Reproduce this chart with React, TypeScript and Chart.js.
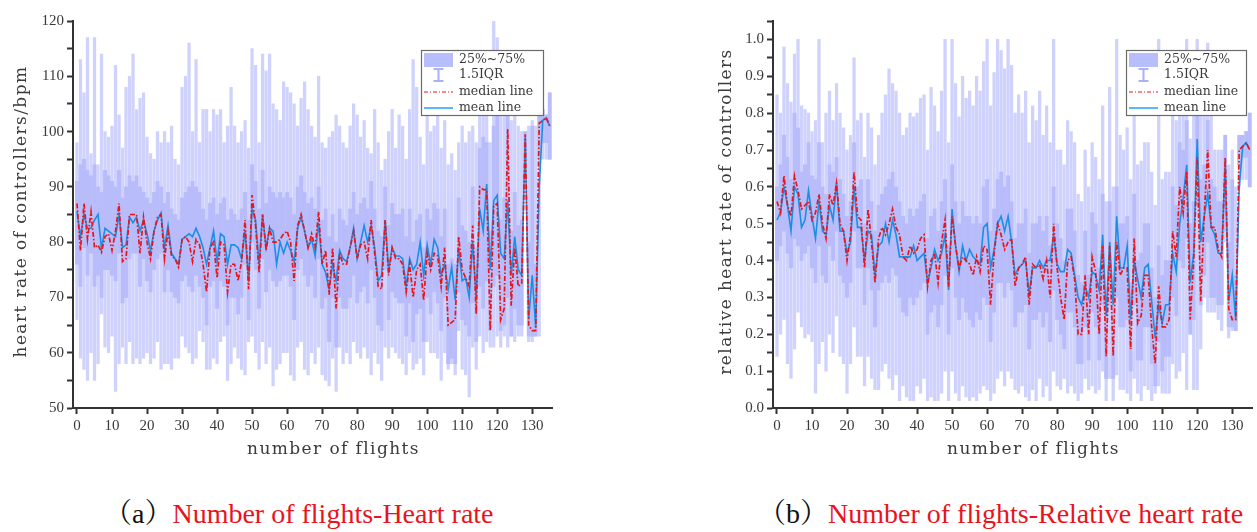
import React, { useEffect, useRef } from 'react';
import { Chart, registerables } from 'chart.js';
Chart.register(...registerables);

// ---------------- DATA ----------------
const flightCount = 136;
const flights = Array.from({ length: flightCount }, (_, i) => i);

const xTickValues = [0, 10, 20, 30, 40, 50, 60, 70, 80, 90, 100, 110, 120, 130];

// Panel (a): heart rate (bpm)
const hrMedian = [
  87, 78.5, 87, 80.5, 85.5, 79, 79.5, 78.2, 81, 81.5,
  78.5, 82, 87, 76.5, 77, 85, 85, 85, 78, 84.5,
  80, 77, 82, 84.5, 85, 77, 82, 77.5, 77, 75.5,
  80.5, 81, 80, 76.5, 80.5, 79.5, 76, 71, 79, 80,
  73.5, 80, 79.5, 71, 76, 76, 73, 76.5, 84, 71.5,
  88.5, 83, 74.5, 85, 78.5, 82.5, 80, 80, 80.5, 81.5,
  82, 80, 73, 83, 85, 82, 79, 81.5, 79, 85.5,
  76, 78.5, 70.5, 79, 68, 78, 76, 76, 79, 82,
  77, 79.5, 80, 77, 84, 78, 72, 71.5, 84, 74,
  79, 77, 77, 76, 71, 76, 70, 75, 76, 69.5,
  78, 75, 78, 77.5, 72, 79, 65, 65.5, 66, 81,
  75, 73.5, 72, 83, 67, 90, 89.5, 89.5, 64, 86.5,
  87, 66, 68, 100.5, 68.5, 79, 72, 72.5, 99.5, 65,
  64, 64, 101.5, 102, 102.5, 101,
];
const hrMean = [
  85.5, 81, 85, 82.5, 82.5, 84, 85, 78.8, 82.5, 82,
  81.5, 81, 85, 79, 79.5, 84.5, 83.5, 84.5, 82, 84,
  81.5, 78.5, 82, 84, 85.3, 79, 83, 78, 77, 76,
  80.5, 81, 81.5, 81, 82.5, 81, 79, 76, 79, 82,
  76.5, 81.5, 81, 76, 79.5, 79.5, 79, 77, 82, 73,
  86, 84, 76, 85, 79, 82.5, 82, 76, 80, 78,
  80, 78.5, 76.5, 82.5, 84.5, 82, 79, 80.5, 77.5, 83.5,
  76, 74.5, 71.5, 76, 73, 78.5, 77, 76.5, 79, 82.5,
  77, 80, 83, 80, 83, 79, 73, 74, 84, 75,
  79, 77.5, 77.5, 77, 72, 77, 75, 76, 80, 74,
  79.5, 76, 80.5, 79, 74, 76, 71.5, 75.5, 69.5, 79,
  73, 73.5, 70, 80, 70, 86, 82, 90.5, 75, 87.5,
  88.5, 78, 77, 87.5, 74, 81, 75, 74, 99, 66,
  74, 64.5, 90, 102, 102.5, 101,
];
const hrQ3 = [
  91, 94, 95, 93, 92, 94, 90, 89, 93, 92,
  91, 90, 93, 88, 90, 92, 91, 92, 90, 89,
  88, 87, 89, 91, 90, 87, 89, 86, 85, 84,
  88, 89, 90, 91, 90, 89, 86, 84, 87, 88,
  85, 87, 88, 84, 86, 85, 84, 86, 89, 84,
  94, 91, 86, 93, 87, 90, 89, 88, 89, 88,
  89, 88, 85, 90, 92, 89, 87, 88, 86, 90,
  84, 86, 81, 85, 80, 86, 84, 83, 86, 89,
  85, 87, 88, 86, 91, 86, 82, 81, 90, 83,
  87, 85, 85, 86, 81, 86, 80, 84, 85, 79,
  86, 84, 87, 86, 81, 86, 76, 77, 76, 88,
  83, 82, 80, 90, 79, 97, 99, 98, 82, 101,
  103, 84, 88, 105, 82, 89, 83, 84, 100, 80,
  101, 76, 103, 104, 103, 107,
];
const hrQ1 = [
  76, 72, 79, 74, 78, 72, 74, 70, 75, 75,
  74, 73, 78, 69, 70, 77, 78, 78, 72, 77,
  73, 71, 75, 77, 78, 71, 75, 71, 70, 69,
  73, 74, 72, 71, 74, 72, 70, 65, 72, 73,
  68, 73, 72, 65, 70, 70, 67, 70, 76, 66,
  80, 75, 68, 77, 71, 75, 73, 72, 73, 74,
  74, 72, 66, 75, 77, 74, 72, 74, 70, 77,
  68, 70, 62, 70, 61, 70, 68, 68, 70, 74,
  69, 71, 72, 69, 75, 70, 65, 64, 75, 66,
  71, 70, 69, 69, 63, 69, 62, 67, 68, 62,
  70, 67, 71, 69, 64, 70, 58, 59, 58, 71,
  66, 65, 63, 69, 62, 72, 68, 73, 64, 72,
  74, 64, 65, 70, 63, 68, 65, 65, 95, 63,
  63, 63, 95, 98, 98, 95,
];
const hrHigh = [
  98, 113, 107, 117, 96, 117, 94, 114, 100, 99,
  101, 112, 103, 97, 108, 110, 114, 104, 106, 107,
  99, 96, 95, 100, 98, 100, 98, 101, 95, 94,
  108, 110, 116, 100, 113, 98, 104, 104, 100, 104,
  103, 104, 98, 101, 108, 101, 98, 100, 102, 97,
  115, 112, 98, 114, 111, 114, 105, 104, 102, 109,
  108, 107, 105, 101, 106, 109, 104, 101, 99, 110,
  98, 97, 99, 100, 103, 101, 98, 97, 101, 105,
  103, 99, 102, 97, 96, 104, 98, 93, 95, 100,
  104, 97, 103, 101, 95, 104, 113, 108, 99, 94,
  103, 100, 101, 104, 97, 102, 94, 96, 93, 98,
  101, 98, 100, 101, 98, 103, 113, 105, 98, 120,
  117, 104, 105, 100, 102, 103, 101, 100, 100, 101,
  102, 101, 102, 103, 103, 107,
];
const hrLow = [
  66, 59, 57, 55, 60, 55, 58, 67, 61, 60,
  63, 53, 58, 61, 58, 62, 58, 59, 58, 59,
  60, 58, 59, 62, 57, 58, 58, 57, 59, 59,
  63, 61, 60, 58, 59, 64, 62, 57, 57, 59,
  58, 62, 63, 55, 58, 61, 59, 57, 56, 62,
  63, 60, 57, 62, 58, 61, 54, 57, 58, 60,
  60, 56, 55, 61, 62, 57, 56, 60, 58, 61,
  56, 55, 54, 59, 53, 61, 58, 60, 58, 62,
  60, 59, 61, 59, 56, 60, 58, 55, 61, 59,
  61, 60, 59, 58, 56, 60, 57, 58, 59, 56,
  62, 60, 60, 59, 55, 60, 57, 58, 56, 64,
  57, 56, 52, 61, 57, 63, 60, 62, 61, 61,
  63, 61, 63, 61, 63, 62, 63, 63, 94, 62,
  62, 63, 63, 95, 95, 95,
];

// Panel (b): relative heart rate
const rhrMedian = [
  0.56, 0.53, 0.63, 0.55, 0.52, 0.63, 0.59, 0.54, 0.55, 0.56,
  0.51, 0.53, 0.58, 0.50, 0.46, 0.58, 0.55, 0.61, 0.50, 0.48,
  0.40, 0.47, 0.64, 0.52, 0.51, 0.38, 0.54, 0.45, 0.34, 0.46,
  0.49, 0.47, 0.50, 0.54, 0.49, 0.47, 0.41, 0.40, 0.44, 0.42,
  0.43, 0.46, 0.47, 0.33, 0.40, 0.42, 0.34, 0.45, 0.51, 0.33,
  0.52, 0.44, 0.38, 0.41, 0.40, 0.39, 0.36, 0.41, 0.37, 0.44,
  0.43, 0.28, 0.42, 0.50, 0.47, 0.43, 0.45, 0.46, 0.33, 0.38,
  0.39, 0.41, 0.28, 0.39, 0.38, 0.39, 0.35, 0.40, 0.30, 0.50,
  0.38, 0.30, 0.24, 0.40, 0.41, 0.35, 0.20, 0.20, 0.36, 0.20,
  0.41, 0.37, 0.20, 0.44, 0.14, 0.44, 0.14, 0.45, 0.36, 0.38,
  0.38, 0.16, 0.46, 0.23, 0.25, 0.36, 0.36, 0.22, 0.12, 0.33,
  0.22, 0.22, 0.24, 0.48, 0.41, 0.60, 0.53, 0.64, 0.24, 0.40,
  0.68, 0.29, 0.52, 0.70, 0.49, 0.49, 0.43, 0.41, 0.68, 0.27,
  0.24, 0.24, 0.70, 0.71, 0.72, 0.70,
];
const rhrMean = [
  0.51, 0.53, 0.60, 0.55, 0.48, 0.60, 0.58, 0.49, 0.51, 0.59,
  0.52, 0.46, 0.56, 0.48, 0.47, 0.55, 0.51, 0.61, 0.48, 0.48,
  0.42, 0.45, 0.60, 0.49, 0.49, 0.40, 0.48, 0.47, 0.36, 0.44,
  0.45, 0.50, 0.45, 0.51, 0.47, 0.41, 0.41, 0.41, 0.41, 0.44,
  0.40, 0.41, 0.42, 0.34, 0.38, 0.43, 0.40, 0.42, 0.47, 0.32,
  0.54, 0.44, 0.37, 0.44, 0.40, 0.43, 0.41, 0.40, 0.39, 0.49,
  0.50, 0.38, 0.43, 0.50, 0.52, 0.48, 0.52, 0.45, 0.36, 0.38,
  0.39, 0.40, 0.31, 0.38, 0.38, 0.40, 0.38, 0.40, 0.40, 0.47,
  0.39, 0.37, 0.37, 0.43, 0.42, 0.36, 0.30, 0.28, 0.33, 0.30,
  0.37, 0.36, 0.32, 0.47, 0.25, 0.45, 0.28, 0.52, 0.38, 0.38,
  0.44, 0.24, 0.40, 0.35, 0.30, 0.38, 0.39, 0.29, 0.19, 0.28,
  0.23, 0.28, 0.28, 0.42, 0.37, 0.50, 0.57, 0.66, 0.34, 0.42,
  0.73, 0.45, 0.52, 0.58, 0.49, 0.47, 0.42, 0.42, 0.66, 0.29,
  0.36, 0.24, 0.60, 0.71, 0.72, 0.70,
];
const rhrQ3 = [
  0.60, 0.66, 0.74, 0.68, 0.62, 0.80, 0.76, 0.64, 0.66, 0.72,
  0.63, 0.62, 0.72, 0.60, 0.58, 0.66, 0.64, 0.68, 0.62, 0.58,
  0.52, 0.56, 0.72, 0.60, 0.62, 0.50, 0.62, 0.56, 0.48, 0.55,
  0.58, 0.60, 0.62, 0.64, 0.60, 0.56, 0.52, 0.50, 0.54, 0.52,
  0.54, 0.56, 0.58, 0.46, 0.52, 0.54, 0.48, 0.56, 0.62, 0.44,
  0.66, 0.56, 0.50, 0.56, 0.52, 0.52, 0.50, 0.52, 0.50, 0.60,
  0.62, 0.48, 0.54, 0.62, 0.64, 0.60, 0.63, 0.56, 0.46, 0.50,
  0.50, 0.54, 0.42, 0.50, 0.50, 0.52, 0.48, 0.52, 0.44, 0.60,
  0.50, 0.46, 0.40, 0.54, 0.54, 0.48, 0.36, 0.34, 0.48, 0.36,
  0.53, 0.50, 0.38, 0.58, 0.30, 0.56, 0.32, 0.60, 0.50, 0.50,
  0.52, 0.34, 0.58, 0.40, 0.42, 0.50, 0.50, 0.38, 0.30, 0.44,
  0.36, 0.40, 0.40, 0.60, 0.55, 0.72, 0.70, 0.78, 0.50, 0.56,
  0.82, 0.62, 0.66, 0.78, 0.62, 0.60, 0.56, 0.56, 0.74, 0.45,
  0.62, 0.36, 0.74, 0.74, 0.75, 0.80,
];
const rhrQ1 = [
  0.40, 0.44, 0.48, 0.42, 0.38, 0.46, 0.44, 0.40, 0.42, 0.44,
  0.38, 0.34, 0.44, 0.36, 0.34, 0.44, 0.40, 0.48, 0.36, 0.34,
  0.30, 0.34, 0.48, 0.38, 0.38, 0.28, 0.38, 0.32, 0.22, 0.32,
  0.34, 0.36, 0.34, 0.38, 0.36, 0.30, 0.26, 0.25, 0.30, 0.28,
  0.30, 0.32, 0.34, 0.20, 0.26, 0.28, 0.22, 0.28, 0.36, 0.20,
  0.38, 0.30, 0.24, 0.30, 0.26, 0.24, 0.22, 0.26, 0.24, 0.30,
  0.28, 0.18, 0.26, 0.34, 0.34, 0.30, 0.34, 0.32, 0.22, 0.26,
  0.26, 0.28, 0.16, 0.24, 0.24, 0.26, 0.22, 0.26, 0.18, 0.32,
  0.24, 0.20, 0.16, 0.26, 0.26, 0.22, 0.12, 0.12, 0.22, 0.13,
  0.26, 0.22, 0.13, 0.28, 0.08, 0.28, 0.08, 0.30, 0.22, 0.22,
  0.24, 0.10, 0.28, 0.13, 0.13, 0.22, 0.22, 0.12, 0.06, 0.18,
  0.10, 0.14, 0.14, 0.30, 0.25, 0.40, 0.38, 0.46, 0.20, 0.24,
  0.55, 0.28, 0.36, 0.45, 0.30, 0.30, 0.28, 0.28, 0.48, 0.22,
  0.22, 0.21, 0.66, 0.68, 0.68, 0.60,
];
const rhrHigh = [
  0.85, 0.80, 0.98, 0.88, 0.83, 0.96, 1.00, 0.82, 0.81, 0.80,
  0.75, 0.78, 1.00, 0.72, 0.80, 0.86, 0.78, 0.88, 0.80, 0.76,
  0.70, 0.74, 0.95, 0.78, 0.80, 0.68, 0.80, 0.76, 0.66, 0.74,
  0.80, 0.85, 0.92, 0.88, 0.86, 0.80, 0.74, 0.76, 0.80, 0.79,
  0.80, 0.84, 0.85, 0.70, 0.87, 0.82, 0.75, 0.86, 1.00, 0.72,
  1.00, 0.88, 0.79, 0.90, 0.84, 0.86, 0.82, 0.90, 0.86, 0.94,
  1.00, 0.82, 0.91, 1.00, 0.97, 0.92, 1.00, 0.93, 0.80, 0.85,
  0.80, 0.86, 0.72, 0.82, 0.78, 0.86, 0.74, 0.82, 0.72, 1.00,
  0.70, 0.70, 0.66, 0.78, 0.75, 0.72, 0.58, 0.56, 0.70, 0.60,
  0.72, 0.68, 0.62, 0.82, 0.56, 0.87, 0.60, 1.00, 0.74, 0.70,
  0.76, 0.62, 0.80, 0.66, 0.67, 0.72, 0.72, 0.64, 0.55, 1.00,
  0.62, 0.64, 0.64, 0.80, 0.78, 0.90, 0.88, 1.00, 0.73, 0.80,
  1.00, 0.84, 0.90, 0.99, 0.80, 0.70, 0.70, 0.70, 0.71, 0.66,
  0.70, 0.60, 0.72, 0.73, 0.75, 0.80,
];
const rhrLow = [
  0.14, 0.20, 0.24, 0.12, 0.08, 0.16, 0.26, 0.22, 0.19, 0.20,
  0.18, 0.04, 0.12, 0.18, 0.10, 0.20, 0.15, 0.25, 0.14, 0.12,
  0.04, 0.12, 0.22, 0.14, 0.14, 0.06, 0.14, 0.08, 0.05, 0.05,
  0.10, 0.12, 0.08, 0.05, 0.09, 0.02, 0.06, 0.03, 0.02, 0.02,
  0.06, 0.04, 0.08, 0.02, 0.03, 0.02, 0.02, 0.04, 0.10, 0.02,
  0.10, 0.04, 0.02, 0.06, 0.03, 0.02, 0.03, 0.02, 0.04, 0.06,
  0.05, 0.02, 0.04, 0.08, 0.10, 0.06, 0.10, 0.08, 0.05, 0.04,
  0.06, 0.03, 0.02, 0.05, 0.02, 0.08, 0.03, 0.06, 0.02, 0.10,
  0.06, 0.05, 0.08, 0.04, 0.06, 0.04, 0.02, 0.04, 0.08, 0.05,
  0.06, 0.04, 0.05, 0.10, 0.02, 0.08, 0.02, 0.09, 0.05, 0.05,
  0.04, 0.02, 0.08, 0.04, 0.02, 0.06, 0.05, 0.02, 0.04, 0.06,
  0.04, 0.04, 0.04, 0.12, 0.08, 0.10, 0.15, 0.05, 0.21, 0.05,
  0.05, 0.16, 0.30, 0.26, 0.26, 0.26, 0.24, 0.21, 0.45, 0.19,
  0.21, 0.21, 0.60, 0.62, 0.62, 0.60,
];

const legendLabels = ['25%~75%', '1.5IQR', 'median line', 'mean line'];

// ---------------- STYLE ----------------
const BOX_COLOR = 'rgb(184,188,250)';
const WHISKER_COLOR = 'rgb(207,210,252)';
const MEDIAN_COLOR = '#e8151b';
const MEAN_COLOR = '#1b8ee6';
const AXIS_COLOR = '#333333';
const TEXT_COLOR = '#3a3a3a';
const TICK_FONT = { family: '"Liberation Serif", serif', size: 15 };

function makeDecorPlugin(cfg: {
  box: { x: number; y: number; w: number; h: number };
  xTitle: string;
  yTitle: string;
  yTitleX: number;
}) {
  return {
    id: 'decor',
    afterDraw(chart: any) {
      const ctx = chart.ctx as CanvasRenderingContext2D;
      const area = chart.chartArea;
      // axis titles
      ctx.save();
      ctx.fillStyle = TEXT_COLOR;
      ctx.font = '17px "DejaVu Serif", serif';
      (ctx as any).letterSpacing = '1.4px';
      ctx.textAlign = 'center';
      ctx.textBaseline = 'middle';
      ctx.fillText(cfg.xTitle, (area.left + area.right) / 2 + 21, 450);
      ctx.translate(cfg.yTitleX, (area.top + area.bottom) / 2 - 3);
      ctx.rotate(-Math.PI / 2);
      ctx.fillText(cfg.yTitle, 0, 0);
      ctx.restore();

      // legend
      const { x, y, w, h } = cfg.box;
      ctx.save();
      ctx.fillStyle = '#ffffff';
      ctx.fillRect(x, y, w, h);
      ctx.strokeStyle = '#6b6b6b';
      ctx.lineWidth = 1.2;
      ctx.strokeRect(x + 0.5, y + 0.5, w, h);
      const sx = x + 3;
      const sw = 29;
      const rows = [10, 25, 42, 58];
      ctx.fillStyle = 'rgb(184,189,251)';
      ctx.fillRect(sx, y + 3, sw, 14);
      const cx = sx + sw / 2;
      ctx.strokeStyle = 'rgb(170,176,250)';
      ctx.lineWidth = 2;
      ctx.beginPath();
      ctx.moveTo(cx - 5, y + rows[1] - 6);
      ctx.lineTo(cx + 5, y + rows[1] - 6);
      ctx.moveTo(cx, y + rows[1] - 6);
      ctx.lineTo(cx, y + rows[1] + 6);
      ctx.moveTo(cx - 5, y + rows[1] + 6);
      ctx.lineTo(cx + 5, y + rows[1] + 6);
      ctx.stroke();
      ctx.strokeStyle = MEDIAN_COLOR;
      ctx.lineWidth = 1;
      ctx.setLineDash([4, 2, 1, 2]);
      ctx.beginPath();
      ctx.moveTo(sx, y + rows[2]);
      ctx.lineTo(sx + sw, y + rows[2]);
      ctx.stroke();
      ctx.setLineDash([]);
      ctx.strokeStyle = '#5cb8f5';
      ctx.lineWidth = 2;
      ctx.beginPath();
      ctx.moveTo(sx, y + rows[3]);
      ctx.lineTo(sx + sw, y + rows[3]);
      ctx.stroke();
      ctx.fillStyle = TEXT_COLOR;
      ctx.font = '12.5px "DejaVu Serif", serif';
      ctx.textBaseline = 'middle';
      ctx.textAlign = 'left';
      legendLabels.forEach((t, i) => ctx.fillText(t, x + 38, y + rows[i]));
      ctx.restore();
    },
  };
}

type PanelProps = {
  width: number;
  height: number;
  median: number[];
  mean: number[];
  q1: number[];
  q3: number[];
  low: number[];
  high: number[];
  yMin: number;
  yMax: number;
  yStep: number;
  yLabel: (v: number) => string;
  yTitle: string;
  yTitleX: number;
  rightPad: number;
  legendBox: { x: number; y: number; w: number; h: number };
};

function Panel(p: PanelProps) {
  const ref = useRef<HTMLCanvasElement | null>(null);
  useEffect(() => {
    if (!ref.current) return;
    const whisker = flights.map((f, i) => ({ x: f, y: [p.low[i], p.high[i]] }));
    const box = flights.map((f, i) => ({ x: f, y: [p.q1[i], p.q3[i]] }));
    const med = flights.map((f, i) => ({ x: f, y: p.median[i] }));
    const mn = flights.map((f, i) => ({ x: f, y: p.mean[i] }));
    const axisGrid = {
      drawOnChartArea: false,
      drawTicks: true,
      tickLength: 6,
      tickWidth: 2,
      color: AXIS_COLOR,
      offset: false,
    };
    const chart = new Chart(ref.current, {
      type: 'bar',
      data: {
        datasets: [
          {
            type: 'line',
            label: 'median line',
            data: med as any,
            borderColor: MEDIAN_COLOR,
            borderWidth: 1.7,
            borderDash: [5, 2, 1.5, 2],
            pointRadius: 0,
            tension: 0,
            order: 0,
          } as any,
          {
            type: 'line',
            label: 'mean line',
            data: mn as any,
            borderColor: MEAN_COLOR,
            borderWidth: 1.6,
            pointRadius: 0,
            tension: 0,
            order: 1,
          } as any,
          {
            type: 'bar',
            label: '25%~75%',
            data: box as any,
            backgroundColor: BOX_COLOR,
            borderWidth: 0,
            barThickness: 3.2,
            grouped: false,
            order: 2,
          } as any,
          {
            type: 'bar',
            label: '1.5IQR',
            data: whisker as any,
            backgroundColor: WHISKER_COLOR,
            borderWidth: 0,
            barThickness: 2.6,
            grouped: false,
            order: 3,
          } as any,
        ],
      },
      options: {
        responsive: false,
        animation: false,
        events: [],
        layout: { padding: { top: 21, right: p.rightPad, left: 0, bottom: 0 } },
        plugins: { legend: { display: false }, tooltip: { enabled: false } },
        scales: {
          x: {
            type: 'linear',
            offset: false,
            min: -1.14,
            max: 135.65,
            afterFit: (s: any) => {
              s.height = 62;
            },
            afterBuildTicks: (s: any) => {
              s.ticks = xTickValues.map((v) => ({ value: v }));
            },
            ticks: {
              font: TICK_FONT,
              color: TEXT_COLOR,
              padding: 3,
              maxRotation: 0,
              autoSkip: false,
              includeBounds: false,
            },
            grid: axisGrid,
            border: { display: true, color: AXIS_COLOR, width: 2 },
            title: { display: false },
          },
          y: {
            type: 'linear',
            min: p.yMin,
            max: p.yMax,
            afterFit: (s: any) => {
              s.width = 73;
            },
            ticks: {
              stepSize: p.yStep,
              font: TICK_FONT,
              color: TEXT_COLOR,
              padding: 3,
              autoSkip: false,
              includeBounds: false,
              callback: (v: any) => p.yLabel(Number(v)),
            },
            grid: axisGrid,
            border: { display: true, color: AXIS_COLOR, width: 2 },
            title: { display: false },
          },
        },
      },
      plugins: [
        makeDecorPlugin({
          box: p.legendBox,
          xTitle: 'number of flights',
          yTitle: p.yTitle,
          yTitleX: p.yTitleX,
        }),
      ],
    } as any);
    return () => chart.destroy();
  }, []);
  return <canvas ref={ref} width={p.width} height={p.height} style={{ display: 'block' }} />;
}

export default function App() {
  const capStyle: React.CSSProperties = {
    position: 'absolute',
    top: 500,
    fontFamily: '"Liberation Serif", "Noto Serif CJK SC", "Noto Sans CJK SC", serif',
    fontSize: 28,
    lineHeight: '28px',
    whiteSpace: 'nowrap',
    color: '#111',
  };
  return (
    <div style={{ position: 'absolute', left: 0, top: 0, width: 1257, height: 532, background: '#fff', overflow: 'hidden' }}>
      <div style={{ position: 'absolute', left: 0, top: 0 }}>
        <Panel
          width={560}
          height={470}
          median={hrMedian}
          mean={hrMean}
          q1={hrQ1}
          q3={hrQ3}
          low={hrLow}
          high={hrHigh}
          yMin={50}
          yMax={120}
          yStep={5}
          yLabel={(v) => (Math.round(v) % 10 === 0 ? String(Math.round(v)) : '')}
          yTitle="heart rate of controllers/bpm"
          yTitleX={22}
          rightPad={8}
          legendBox={{ x: 421, y: 50, w: 122, h: 65 }}
        />
      </div>
      <div style={{ position: 'absolute', left: 700, top: 0 }}>
        <Panel
          width={557}
          height={470}
          median={rhrMedian}
          mean={rhrMean}
          q1={rhrQ1}
          q3={rhrQ3}
          low={rhrLow}
          high={rhrHigh}
          yMin={0}
          yMax={1.05}
          yStep={0.05}
          yLabel={(v) => (Math.round(v * 100) % 10 === 0 && v < 1.01 ? v.toFixed(1) : '')}
          yTitle="relative heart rate of controllers"
          yTitleX={27}
          rightPad={5}
          legendBox={{ x: 426, y: 50, w: 120, h: 65 }}
        />
      </div>
      <div style={{ ...capStyle, left: 104 }}>
        （a）<span style={{ color: '#e8141c' }}>Number of flights-Heart rate</span>
      </div>
      <div style={{ ...capStyle, left: 758 }}>
        （b）<span style={{ color: '#e8141c' }}>Number of flights-Relative heart rate</span>
      </div>
    </div>
  );
}
